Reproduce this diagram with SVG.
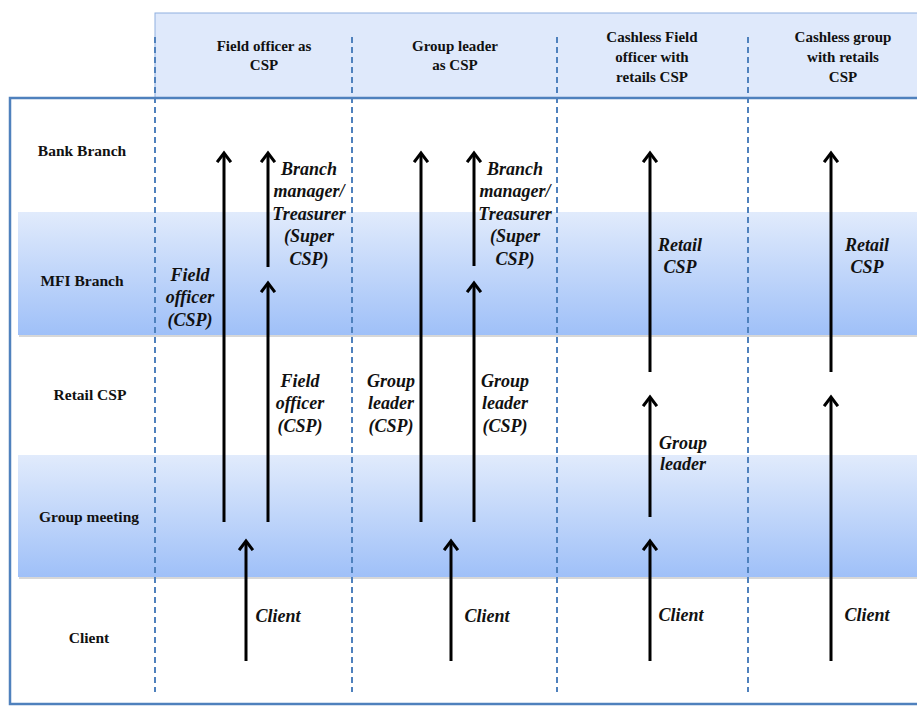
<svg xmlns="http://www.w3.org/2000/svg" width="917" height="706" viewBox="0 0 917 706">
<defs>
<linearGradient id="band" x1="0" y1="0" x2="0" y2="1">
<stop offset="0" stop-color="#e1ebfc"/>
<stop offset="1" stop-color="#9fc0f8"/>
</linearGradient>
<marker id="ah" markerUnits="userSpaceOnUse" markerWidth="20" markerHeight="20" viewBox="-10 -10 20 20" refX="0" refY="0" orient="auto">
<path d="M -8 -6 L 0 0 L -8 6" fill="none" stroke="#000" stroke-width="3" stroke-linecap="square"/>
</marker>
<style>
.hdr{font-family:"Liberation Serif","Times New Roman",serif;font-weight:bold;font-size:15px;fill:#111;text-anchor:middle}
.row{font-family:"Liberation Serif","Times New Roman",serif;font-weight:bold;font-size:15.5px;fill:#111;text-anchor:middle}
.lbl{font-family:"Liberation Serif","Times New Roman",serif;font-weight:bold;font-style:italic;font-size:18px;fill:#111;text-anchor:middle}
.arr{stroke:#000;stroke-width:3;fill:none;marker-end:url(#ah)}
.dash{stroke:#4f81bd;stroke-width:2;stroke-dasharray:6 4;fill:none}
</style>
</defs>
<rect width="917" height="706" fill="#fff"/>
<g id="header">
<rect x="155" y="13" width="770" height="85" fill="#dfe9fb" stroke="#8fb0e0" stroke-width="1"/>
</g>
<g id="frame">
<rect x="10" y="98" width="920" height="606" fill="none" stroke="#4f81bd" stroke-width="2.5"/>
</g>
<g id="bands">
<rect x="19" y="214" width="898" height="123" fill="#b0b0b0" opacity="0.5"/>
<rect x="18" y="212" width="899" height="123" fill="url(#band)"/>
<rect x="19" y="457" width="898" height="122" fill="#b0b0b0" opacity="0.5"/>
<rect x="18" y="455" width="899" height="122" fill="url(#band)"/>
</g>
<g id="dividers">
<line class="dash" x1="155" y1="37" x2="155" y2="692"/>
<line class="dash" x1="352" y1="37" x2="352" y2="692"/>
<line class="dash" x1="557" y1="37" x2="557" y2="692"/>
<line class="dash" x1="748" y1="37" x2="748" y2="692"/>
</g>
<g id="column-headers">
<text class="hdr" x="264" y="51">Field officer as</text>
<text class="hdr" x="264" y="70">CSP</text>
<text class="hdr" x="455" y="51">Group leader</text>
<text class="hdr" x="455" y="70">as CSP</text>
<text class="hdr" x="652" y="42">Cashless Field</text>
<text class="hdr" x="652" y="62">officer with</text>
<text class="hdr" x="652" y="82">retails CSP</text>
<text class="hdr" x="843" y="42">Cashless group</text>
<text class="hdr" x="843" y="62">with retails</text>
<text class="hdr" x="843" y="82">CSP</text>
</g>
<g id="row-labels">
<text class="row" x="82" y="156">Bank Branch</text>
<text class="row" x="82" y="286">MFI Branch</text>
<text class="row" x="90" y="400">Retail CSP</text>
<text class="row" x="89" y="522">Group meeting</text>
<text class="row" x="89" y="643">Client</text>
</g>
<g id="connectors">
<line class="arr" x1="224" y1="522" x2="224" y2="153"/>
<line class="arr" x1="268" y1="267" x2="268" y2="153"/>
<line class="arr" x1="268" y1="522" x2="268" y2="283"/>
<line class="arr" x1="246" y1="661" x2="246" y2="541"/>
<line class="arr" x1="421" y1="522" x2="421" y2="153"/>
<line class="arr" x1="474" y1="266" x2="474" y2="153"/>
<line class="arr" x1="474" y1="522" x2="474" y2="283"/>
<line class="arr" x1="451" y1="661" x2="451" y2="541"/>
<line class="arr" x1="650" y1="372" x2="650" y2="153"/>
<line class="arr" x1="650" y1="517" x2="650" y2="397"/>
<line class="arr" x1="650" y1="661" x2="650" y2="541"/>
<line class="arr" x1="831" y1="372" x2="831" y2="153"/>
<line class="arr" x1="831" y1="661" x2="831" y2="397"/>
</g>
<g id="col1-labels">
<text class="lbl" x="309" y="175">Branch</text>
<text class="lbl" x="309" y="197">manager/</text>
<text class="lbl" x="309" y="220">Treasurer</text>
<text class="lbl" x="309" y="242">(Super</text>
<text class="lbl" x="309" y="265">CSP)</text>
<text class="lbl" x="190" y="281">Field</text>
<text class="lbl" x="190" y="303">officer</text>
<text class="lbl" x="190" y="326">(CSP)</text>
<text class="lbl" x="300" y="387">Field</text>
<text class="lbl" x="300" y="409">officer</text>
<text class="lbl" x="300" y="432">(CSP)</text>
<text class="lbl" x="278" y="622">Client</text>
</g>
<g id="col2-labels">
<text class="lbl" x="515" y="175">Branch</text>
<text class="lbl" x="515" y="197">manager/</text>
<text class="lbl" x="515" y="220">Treasurer</text>
<text class="lbl" x="515" y="242">(Super</text>
<text class="lbl" x="515" y="265">CSP)</text>
<text class="lbl" x="391" y="387">Group</text>
<text class="lbl" x="391" y="409">leader</text>
<text class="lbl" x="391" y="432">(CSP)</text>
<text class="lbl" x="505" y="387">Group</text>
<text class="lbl" x="505" y="409">leader</text>
<text class="lbl" x="505" y="432">(CSP)</text>
<text class="lbl" x="487" y="622">Client</text>
</g>
<g id="col3-labels">
<text class="lbl" x="680" y="251">Retail</text>
<text class="lbl" x="680" y="273">CSP</text>
<text class="lbl" x="683" y="449">Group</text>
<text class="lbl" x="683" y="470">leader</text>
<text class="lbl" x="681" y="621">Client</text>
</g>
<g id="col4-labels">
<text class="lbl" x="867" y="251">Retail</text>
<text class="lbl" x="867" y="273">CSP</text>
<text class="lbl" x="867" y="621">Client</text>
</g>
</svg>
